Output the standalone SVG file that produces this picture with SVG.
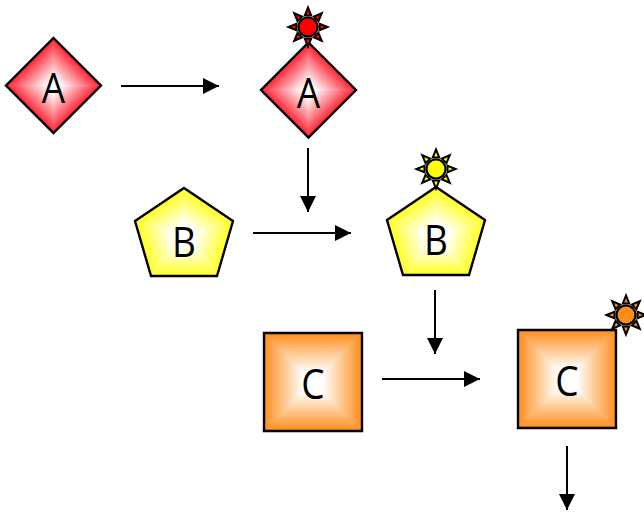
<svg xmlns="http://www.w3.org/2000/svg" xmlns:xlink="http://www.w3.org/1999/xlink" width="644" height="512" viewBox="0 0 644 512">
<style>
.o{fill:none;stroke:#000;stroke-width:2.4;stroke-linejoin:miter}
.l{font-family:"Open Sans","Liberation Sans",sans-serif;font-size:42px;fill:#000;text-anchor:middle}
.c line{stroke:#000;stroke-width:2;fill:none}
.ray{stroke:#000;stroke-width:2;stroke-linejoin:miter}
.dot{stroke:#000;stroke-width:2.2}
.t{stroke-width:.7}
</style>
<defs>
<marker id="arrow" markerUnits="userSpaceOnUse" markerWidth="18" markerHeight="18" refX="16" refY="9" orient="auto"><path d="M0 1L16 9L0 17Z" fill="#000"/></marker>
<linearGradient id="rs"><stop offset="0" stop-color="#ff2233"/><stop offset=".85" stop-color="#fff"/></linearGradient>
<linearGradient id="ys"><stop offset="0" stop-color="#ffff22"/><stop offset=".75" stop-color="#fff"/></linearGradient>
<linearGradient id="os"><stop offset="0" stop-color="#ff8c1a"/><stop offset=".8" stop-color="#fff"/></linearGradient>
<linearGradient id="r1" xlink:href="#rs" gradientUnits="userSpaceOnUse" x1="-23.75" y1="-23.75" x2="0" y2="0"/>
<linearGradient id="r2" xlink:href="#rs" gradientUnits="userSpaceOnUse" x1="23.75" y1="-23.75" x2="0" y2="0"/>
<linearGradient id="r3" xlink:href="#rs" gradientUnits="userSpaceOnUse" x1="23.75" y1="23.75" x2="0" y2="0"/>
<linearGradient id="r4" xlink:href="#rs" gradientUnits="userSpaceOnUse" x1="-23.75" y1="23.75" x2="0" y2="0"/>
<linearGradient id="y1" xlink:href="#ys" gradientUnits="userSpaceOnUse" x1="22.7" y1="-33.7" x2="0" y2="0"/>
<linearGradient id="y2" xlink:href="#ys" gradientUnits="userSpaceOnUse" x1="40.9" y1="11.9" x2="0" y2="0"/>
<linearGradient id="y3" xlink:href="#ys" gradientUnits="userSpaceOnUse" x1="0" y1="39" x2="0" y2="0"/>
<linearGradient id="y4" xlink:href="#ys" gradientUnits="userSpaceOnUse" x1="-40.9" y1="11.9" x2="0" y2="0"/>
<linearGradient id="y5" xlink:href="#ys" gradientUnits="userSpaceOnUse" x1="-22.7" y1="-33.7" x2="0" y2="0"/>
<linearGradient id="o1" xlink:href="#os" gradientUnits="userSpaceOnUse" x1="0" y1="-49" x2="0" y2="0"/>
<linearGradient id="o2" xlink:href="#os" gradientUnits="userSpaceOnUse" x1="49" y1="0" x2="0" y2="0"/>
<linearGradient id="o3" xlink:href="#os" gradientUnits="userSpaceOnUse" x1="0" y1="49" x2="0" y2="0"/>
<linearGradient id="o4" xlink:href="#os" gradientUnits="userSpaceOnUse" x1="-49" y1="0" x2="0" y2="0"/>
<g id="diamond">
<path class="t" d="M0 0L-47.5 0L0 -47.5Z" fill="url(#r1)" stroke="url(#r1)"/><path class="t" d="M0 0L47.5 0L0 -47.5Z" fill="url(#r2)" stroke="url(#r2)"/><path class="t" d="M0 0L47.5 0L0 47.5Z" fill="url(#r3)" stroke="url(#r3)"/><path class="t" d="M0 0L-47.5 0L0 47.5Z" fill="url(#r4)" stroke="url(#r4)"/>
<path class="o" d="M0 -47.5L47.5 0L0 47.5L-47.5 0Z"/>
</g>
<g id="pentagon">
<path class="t" d="M0 0L0 -49L49 -16Z" fill="url(#y1)" stroke="url(#y1)"/><path class="t" d="M0 0L49 -16L33 39Z" fill="url(#y2)" stroke="url(#y2)"/><path class="t" d="M0 0L33 39L-33 39Z" fill="url(#y3)" stroke="url(#y3)"/><path class="t" d="M0 0L-33 39L-49 -16Z" fill="url(#y4)" stroke="url(#y4)"/><path class="t" d="M0 0L-49 -16L0 -49Z" fill="url(#y5)" stroke="url(#y5)"/>
<path class="o" d="M0 -49L49 -16L33 39L-33 39L-49 -16Z"/>
</g>
<g id="square">
<path class="t" d="M0 0L-49 -49L49 -49Z" fill="url(#o1)" stroke="url(#o1)"/><path class="t" d="M0 0L49 -49L49 49Z" fill="url(#o2)" stroke="url(#o2)"/><path class="t" d="M0 0L49 49L-49 49Z" fill="url(#o3)" stroke="url(#o3)"/><path class="t" d="M0 0L-49 49L-49 -49Z" fill="url(#o4)" stroke="url(#o4)"/>
<path class="o" d="M-49 -49H49V49H-49Z"/>
</g>
<path id="ray" class="ray" d="M0 -19.5L-3.2 -11.5L3.2 -11.5Z"/>
<g id="sun">
<use xlink:href="#ray"/><use xlink:href="#ray" transform="rotate(45)"/><use xlink:href="#ray" transform="rotate(90)"/><use xlink:href="#ray" transform="rotate(135)"/><use xlink:href="#ray" transform="rotate(180)"/><use xlink:href="#ray" transform="rotate(225)"/><use xlink:href="#ray" transform="rotate(270)"/><use xlink:href="#ray" transform="rotate(315)"/>
<circle class="dot" r="9.5"/>
</g>
</defs>
<g id="connectors" class="c">
<line x1="121" y1="86" x2="219" y2="86" marker-end="url(#arrow)"/>
<line x1="308" y1="148" x2="308" y2="212" marker-end="url(#arrow)"/>
<line x1="253" y1="233" x2="351" y2="233" marker-end="url(#arrow)"/>
<line x1="435" y1="290" x2="435" y2="354" marker-end="url(#arrow)"/>
<line x1="382" y1="379" x2="480" y2="379" marker-end="url(#arrow)"/>
<line x1="567" y1="446" x2="567" y2="510" marker-end="url(#arrow)"/>
</g>
<g id="node-a1"><use xlink:href="#diamond" x="53.5" y="85.5"/><text class="l" transform="translate(53.5 103) scale(.88 1)">A</text></g>
<g id="node-a2"><use xlink:href="#diamond" x="308.5" y="90"/><use xlink:href="#sun" x="308" y="27" fill="#f00"/><text class="l" transform="translate(308.5 108) scale(.88 1)">A</text></g>
<g id="node-b1"><use xlink:href="#pentagon" x="184" y="237"/><text class="l" transform="translate(184 257) scale(.88 1)">B</text></g>
<g id="node-b2"><use xlink:href="#pentagon" x="436" y="236"/><use xlink:href="#sun" x="436" y="169" fill="#ff0"/><text class="l" transform="translate(436 255) scale(.88 1)">B</text></g>
<g id="node-c1"><use xlink:href="#square" x="313" y="382"/><text class="l" transform="translate(313 399) scale(.88 1)">C</text></g>
<g id="node-c2"><use xlink:href="#square" x="567" y="379"/><use xlink:href="#sun" x="626" y="315" fill="#ff8c1a"/><text class="l" transform="translate(567 396) scale(.88 1)">C</text></g>
</svg>
